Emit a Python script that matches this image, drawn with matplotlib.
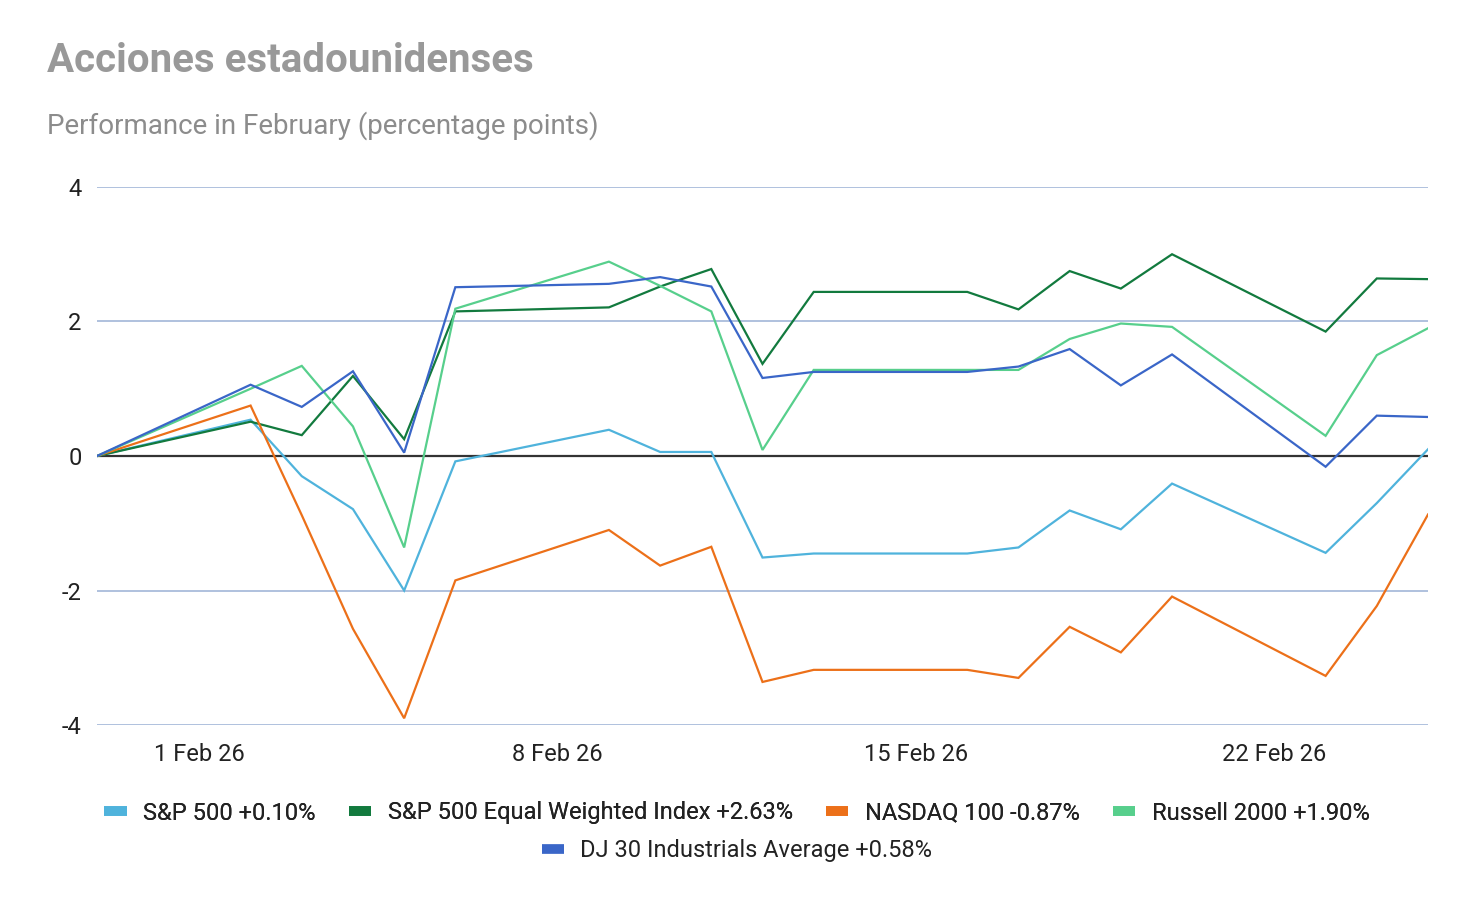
import datetime as dt
import matplotlib
matplotlib.use("Agg")
import matplotlib.pyplot as plt
from matplotlib.lines import Line2D
from matplotlib.ticker import FuncFormatter
import matplotlib.dates as mdates

plt.rcParams['font.family'] = ['Roboto', 'DejaVu Sans']
plt.rcParams['axes.unicode_minus'] = False

# trading days shown (16 Feb repeats 13 Feb, market closed)
days = ["2026-01-30", "2026-02-02", "2026-02-03", "2026-02-04", "2026-02-05",
        "2026-02-06", "2026-02-09", "2026-02-10", "2026-02-11", "2026-02-12",
        "2026-02-13", "2026-02-16", "2026-02-17", "2026-02-18", "2026-02-19",
        "2026-02-20", "2026-02-23", "2026-02-24", "2026-02-25"]
dates = [dt.datetime.strptime(d, "%Y-%m-%d") for d in days]

sp500 = [0, 0.54, -0.30, -0.79, -2.00, -0.08, 0.39, 0.06, 0.06, -1.51,
         -1.45, -1.45, -1.36, -0.81, -1.09, -0.41, -1.44, -0.70, 0.10]
sp500_eq = [0, 0.51, 0.31, 1.19, 0.25, 2.15, 2.21, 2.52, 2.78, 1.37,
            2.44, 2.44, 2.18, 2.75, 2.49, 3.00, 1.85, 2.64, 2.63]
nasdaq = [0, 0.75, -0.88, -2.57, -3.90, -1.85, -1.10, -1.63, -1.35, -3.36,
          -3.18, -3.18, -3.30, -2.54, -2.92, -2.09, -3.27, -2.23, -0.87]
russell = [0, 1.00, 1.34, 0.44, -1.36, 2.19, 2.89, 2.53, 2.15, 0.09,
           1.28, 1.28, 1.28, 1.74, 1.97, 1.92, 0.30, 1.50, 1.90]
dj30 = [0, 1.06, 0.73, 1.26, 0.05, 2.51, 2.56, 2.66, 2.52, 1.16,
        1.25, 1.25, 1.33, 1.59, 1.05, 1.51, -0.16, 0.60, 0.58]

names = ["S&P 500 +0.10%", "S&P 500 Equal Weighted Index +2.63%",
         "NASDAQ 100 -0.87%", "Russell 2000 +1.90%",
         "DJ 30 Industrials Average +0.58%"]
colors = ["#4fb3dc", "#127a3e", "#ec7019", "#57cf8c", "#3a66c8"]
series = [sp500, sp500_eq, nasdaq, russell, dj30]

tick_days = ["2026-02-01", "2026-02-08", "2026-02-15", "2026-02-22"]

fig = plt.figure(figsize=(14.74, 9.10), dpi=100)
ax = fig.add_axes([97/1474, 1-725/910, (1428-97)/1474, (725-187)/910])

for s, c in zip(series, colors):
    ax.plot(dates, s, color=c, lw=1.6, zorder=3, solid_joinstyle='miter')

ax.set_ylim(-4, 4)
ax.set_xlim(dates[0], dates[-1])
ax.set_yticks([-4, -2, 0, 2, 4])
ax.set_xticks([dt.datetime.strptime(d, "%Y-%m-%d") for d in tick_days])
ax.xaxis.set_major_formatter(FuncFormatter(
    lambda v, p: "{} {}".format(mdates.num2date(v).day, mdates.num2date(v).strftime("%b %y"))))

ax.grid(axis='y', color='#a9bcdb', lw=1.3, zorder=1)
ax.grid(axis='x', visible=False)
ax.axhline(0, color='#333333', lw=1.6, zorder=2)
for sp in ax.spines.values():
    sp.set_visible(False)
ax.tick_params(length=0, labelsize=17, colors='#222222')
ax.tick_params(axis='y', pad=11)
ax.tick_params(axis='x', pad=13)

fig.text(47/1474, 1-72/910, "Acciones estadounidenses", fontsize=29,
         fontweight='bold', color='#999999', va='baseline')
fig.text(47/1474, 1-134/910, "Performance in February (percentage points)",
         fontsize=20, color='#8c8c8c', va='baseline')

handles = [Line2D([], [], color=c, lw=7, solid_capstyle='butt') for c in colors]
kw = dict(frameon=False, fontsize=17, handlelength=0.95, handletextpad=0.7,
          columnspacing=1.4, labelcolor='#222222', loc='center')
leg1 = fig.legend(handles[:4], names[:4], ncol=4, bbox_to_anchor=(0.5, 1-813/910), **kw)
fig.add_artist(leg1)
fig.legend(handles[4:], names[4:], ncol=1, bbox_to_anchor=(0.5, 1-851/910), **kw)

fig.savefig("out.png", dpi=100)
